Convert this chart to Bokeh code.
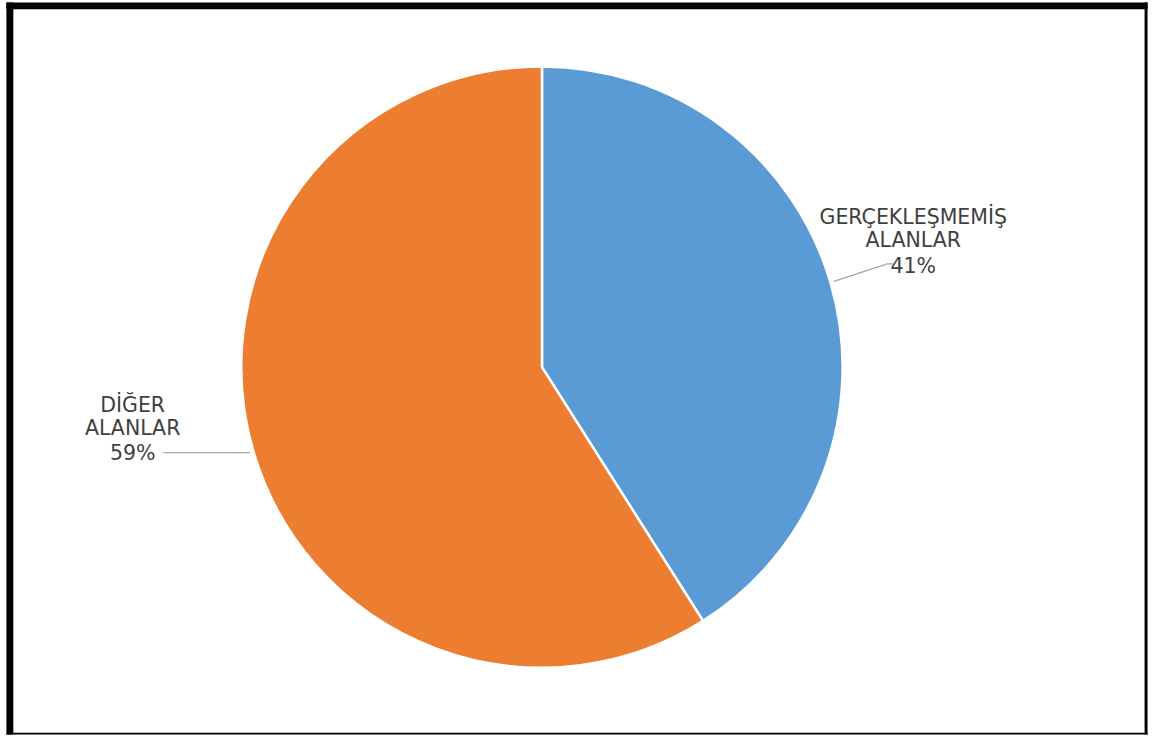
import math
from bokeh.plotting import figure
from bokeh.models import Range1d, ColumnDataSource
from bokeh.core.properties import value
from bokeh.embed import file_html
from bokeh.resources import INLINE

# ---- data ----
categories = ["GERÇEKLEŞMEMİŞ\nALANLAR", "DİĞER\nALANLAR"]
percents = [41, 59]
colors = ["#5B9BD5", "#ED7D31"]

# ---- layout: positions given in reference-image pixels, mapped to figure ----
W, H = 1150, 739
REF_W, REF_H = 1166, 755
SX, SY = W / REF_W, H / REF_H
S = (SX + SY) / 2
def fx(x):
    return x * SX
def fy(y):  # reference screen y -> data y
    return H - y * SY

cx, cy, r = 549, 374.5, 306
label_centers_x = [925.5, 134]
label_baselines = [[221, 245, 271], [413, 437, 462]]
leaders = [[(845, 287), (899, 269), (905, 269)], [(165, 462), (253, 462)]]

p = figure(width=W, height=H, output_backend="svg", toolbar_location=None,
           x_range=Range1d(0, W), y_range=Range1d(0, H), min_border=0)
p.axis.visible = False
p.grid.visible = False
p.outline_line_color = None
p.background_fill_color = "white"
p.border_fill_color = "white"

# wedges: start at top, clockwise
total = sum(percents)
starts, ends = [], []
a = math.pi / 2
for v in percents:
    starts.append(a)
    a -= v / total * 2 * math.pi
    ends.append(a)
src = ColumnDataSource(dict(x=[fx(cx)] * len(percents), y=[fy(cy)] * len(percents),
                            start=starts, end=ends, color=colors))
p.wedge(x="x", y="y", radius=r * S, start_angle="start", end_angle="end",
        direction="clock", fill_color="color", line_color="white", line_width=2.5,
        source=src)

# leader lines
for pts in leaders:
    p.line([fx(q[0]) for q in pts], [fy(q[1]) for q in pts],
           line_color="#A6A6A6", line_width=1.3)

# labels
for cat, pct, lx, bls in zip(categories, percents, label_centers_x, label_baselines):
    lines = cat.split("\n") + [f"{pct}%"]
    p.text(x=[fx(lx)] * len(lines), y=[fy(b) for b in bls], text=lines,
           text_align="center", text_baseline="alphabetic",
           text_font=value("DejaVu Sans"), text_font_size="20.5px",
           text_color="#404040")

# border frame (reference: left 6-13, top 2-9, right 1160-1163, bottom 748-750)
lefts = [6, 6, 1160, 6]
rights = [13, 1163, 1163, 1163]
tops = [2, 2, 2, 748]
bottoms = [750, 9, 750, 750]
p.quad(left=[fx(v) for v in lefts], right=[fx(v) for v in rights],
       top=[fy(v) for v in tops], bottom=[fy(v) for v in bottoms],
       fill_color="black", line_color=None)

open("out.html", "w").write(file_html(p, INLINE))
